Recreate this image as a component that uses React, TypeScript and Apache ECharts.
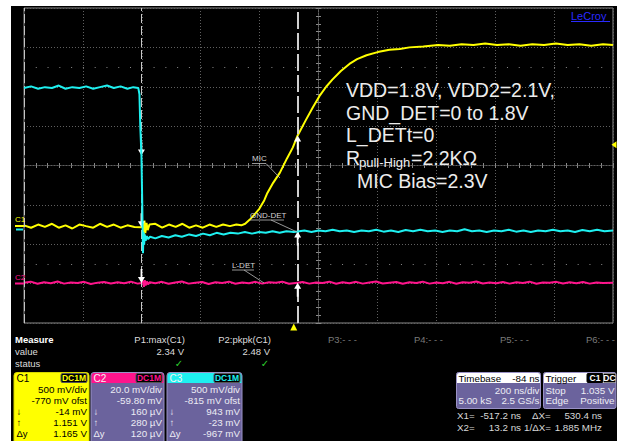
import React, { useEffect, useRef } from 'react';
import * as echarts from 'echarts';

// ---------- data ----------
// time in ns, C1/C3 in volts, C2 in millivolts
const timeRange = [-916, 1084];

const c1Trace: [number, number][] = [
  [-916, 0.01], [-892, -0.02], [-868, 0.02], [-845, -0.01], [-821, 0.03], [-798, -0.02], [-775, 0.01],
  [-752, -0.03], [-728, 0.02], [-705, 0.0], [-681, -0.02], [-658, 0.03], [-634, -0.01], [-611, 0.02],
  [-588, -0.02], [-565, 0.01], [-541, -0.01], [-517.2, -0.014], [-513, 0.03], [-510, -0.15], [-507, 0.07],
  [-504, -0.09], [-500, 0.04], [-496, -0.05], [-490, 0.02], [-470, 0.03], [-447, -0.02], [-424, 0.02],
  [-401, -0.01], [-378, 0.03], [-355, -0.02], [-332, 0.01], [-309, -0.02], [-286, 0.02], [-263, -0.01],
  [-240, 0.02], [-217, 0.0], [-195, 0.02], [-178, 0.01], [-165, 0.03], [-150, 0.08], [-133, 0.15],
  [-117, 0.22], [-100, 0.33], [-91, 0.41], [-70, 0.55], [-47, 0.68], [-23, 0.86], [-3, 1.0], [13.2, 1.151],
  [40, 1.34], [65, 1.51], [87, 1.65], [110, 1.77], [131, 1.86], [160, 1.97], [189, 2.06], [215, 2.12],
  [247, 2.17], [285, 2.21], [325, 2.24], [360, 2.25], [393, 2.27], [440, 2.28], [490, 2.3], [530, 2.29],
  [570, 2.31], [610, 2.3], [650, 2.32], [690, 2.3], [730, 2.31], [770, 2.29], [810, 2.31], [850, 2.3],
  [890, 2.32], [930, 2.3], [970, 2.31], [1010, 2.29], [1050, 2.31], [1084, 2.3],
];

const c2Trace: [number, number][] = [
  [-916, 0.2], [-893, 0.8], [-870, -0.3], [-848, 0.5], [-825, 0.0], [-802, 0.9], [-780, -0.2], [-757, 0.4],
  [-734, 0.1], [-712, 0.7], [-689, -0.4], [-666, 0.3], [-644, 0.6], [-621, -0.1], [-598, 0.5], [-576, 0.0],
  [-553, 0.8], [-530, -0.2], [-517.2, 0.16], [-512, 1.2], [-509, -1.8], [-506, 1.6], [-503, -1.2], [-499, 0.9],
  [-495, -0.6], [-489, 0.5], [-470, 0.0], [-448, 0.7], [-425, -0.3], [-402, 0.4], [-380, 0.9], [-357, -0.2],
  [-334, 0.3], [-311, 0.6], [-289, -0.4], [-266, 0.5], [-243, 0.1], [-220, 0.8], [-198, -0.3], [-175, 0.4],
  [-152, 0.0], [-130, 0.7], [-107, -0.2], [-84, 0.5], [-61, 0.2], [-39, 0.8], [-16, -0.3], [13.2, 0.28],
  [30, 0.6], [53, -0.2], [76, 0.4], [98, 0.1], [121, 0.8], [144, -0.3], [166, 0.5], [189, 0.0], [212, 0.7],
  [234, -0.2], [257, 0.4], [280, 0.9], [302, -0.1], [325, 0.3], [348, 0.6], [370, -0.3], [393, 0.5],
  [416, 0.1], [438, 0.8], [461, -0.2], [484, 0.4], [506, 0.0], [529, 0.7], [552, -0.3], [574, 0.5],
  [597, 0.2], [620, 0.9], [642, -0.1], [665, 0.4], [688, 0.0], [710, 0.6], [733, -0.2], [756, 0.5],
  [778, 0.1], [801, 0.8], [824, -0.3], [846, 0.4], [869, 0.2], [892, 0.7], [914, -0.1], [937, 0.5],
  [960, 0.0], [982, 0.6], [1005, -0.2], [1028, 0.4], [1050, 0.1], [1084, 0.3],
];

const c3Trace: [number, number][] = [
  [-916, 1.8], [-892, 1.82], [-868, 1.79], [-845, 1.81], [-821, 1.8], [-798, 1.83], [-775, 1.79],
  [-752, 1.81], [-728, 1.8], [-705, 1.82], [-681, 1.79], [-658, 1.81], [-634, 1.83], [-611, 1.8],
  [-588, 1.82], [-565, 1.79], [-545, 1.81], [-528, 1.8], [-524, 1.72], [-521, 1.3], [-517.2, 0.943],
  [-515, 0.45], [-513, -0.05], [-512, -0.3], [-510, -0.03], [-508, -0.19], [-506, -0.06], [-503, -0.14],
  [-499, -0.08], [-495, -0.12], [-488, -0.09], [-470, -0.11], [-448, -0.08], [-425, -0.1], [-402, -0.07],
  [-380, -0.09], [-355, -0.06], [-332, -0.08], [-308, -0.05], [-285, -0.07], [-262, -0.04], [-238, -0.06],
  [-215, -0.04], [-190, -0.05], [-166, -0.03], [-142, -0.05], [-118, -0.03], [-95, -0.04], [-72, -0.02],
  [-48, -0.04], [-25, -0.02], [0, -0.03], [13.2, -0.023], [36, -0.01], [60, -0.03], [84, -0.01],
  [108, -0.02], [132, 0.0], [156, -0.02], [180, -0.01], [205, -0.03], [230, -0.01], [255, -0.02],
  [280, 0.0], [305, -0.025], [330, -0.01], [355, -0.03], [380, -0.005], [405, -0.02], [430, 0.0],
  [455, -0.02], [480, -0.01], [505, -0.03], [530, -0.01], [555, -0.02], [580, 0.005], [605, -0.02],
  [630, -0.01], [655, -0.03], [680, -0.01], [705, -0.02], [730, 0.0], [755, -0.025], [780, -0.01],
  [805, -0.03], [830, -0.01], [855, -0.02], [880, 0.0], [905, -0.02], [930, -0.01], [955, -0.03],
  [980, -0.005], [1005, -0.02], [1030, 0.0], [1055, -0.02], [1084, -0.01],
];

// channel vertical settings: [volts per div, offset]
const c1Setting = [0.5, -0.77];
const c2Setting = [20, -59.8];
const c3Setting = [0.5, -0.815];

const cursorTimes = [-517.2, 13.2];
const c1AtCursor = [-0.014, 1.151];
const c2AtCursor = [0.16, 0.28];
const c3AtCursor = [0.943, -0.023];

const triggerTime = 0;
const triggerLevel = 1.035;

const measureNames = ['P1:max(C1)', 'P2:pkpk(C1)', 'P3:- - -', 'P4:- - -', 'P5:- - -', 'P6:- - -'];
const measureValues = ['2.34 V', '2.48 V', '', '', '', ''];

const c1Readout = ['500 mV/div', '-770 mV ofst', '-14 mV', '1.151 V', '1.165 V'];
const c2Readout = ['20.0 mV/div', '-59.80 mV', '160 µV', '280 µV', '120 µV'];
const c3Readout = ['500 mV/div', '-815 mV ofst', '943 mV', '-23 mV', '-967 mV'];

const noteLines = ['VDD=1.8V, VDD2=2.1V,', 'GND_DET=0 to 1.8V', 'L_DETt=0', 'MIC Bias=2.3V'];

// ---------- styling helpers ----------
const FONT = '"Liberation Sans", Arial, "DejaVu Sans", sans-serif';
const YELLOW = '#ffff00';
const CYAN = '#1ef0f0';
const MAGENTA = '#ff148c';
const PURPLE = '#6b639d';
const PURPLE_EDGE = '#9a92c6';

function axisRange(setting: number[]) {
  const center = -setting[1];
  return [center - 4 * setting[0], center + 4 * setting[0]];
}

type TOpts = { fill?: string; size?: number; weight?: string; align?: string; family?: string };
function txt(x: number, y: number, text: string, o: TOpts = {}) {
  return {
    type: 'text', x, y, silent: true, z: 100,
    style: {
      text, fill: o.fill ?? '#dedede', fontSize: o.size ?? 9.5, fontFamily: o.family ?? FONT,
      fontWeight: o.weight ?? 'normal', align: o.align ?? 'left', verticalAlign: 'middle',
    },
  };
}
function ln(x1: number, y1: number, x2: number, y2: number, stroke: string, w = 1) {
  return { type: 'line', silent: true, z: 100, shape: { x1, y1, x2, y2 }, style: { stroke, lineWidth: w } };
}
function rc(x: number, y: number, w: number, h: number, fill: string, stroke?: string, r: any = 0) {
  return {
    type: 'rect', silent: true, z: 99, shape: { x, y, width: w, height: h, r },
    style: { fill, stroke: stroke ?? 'none', lineWidth: 1 },
  };
}

function channelBox(x: number, w: number, name: string, color: string, yellowBody: boolean, values: string[]) {
  const els: any[] = [];
  els.push(rc(x + 0.5, 372.5, w, 72, yellowBody ? YELLOW : PURPLE, yellowBody ? '#d8d800' : PURPLE_EDGE, [3, 3, 0, 0]));
  if (!yellowBody) els.push(rc(x + 1, 373, w - 1, 10, color, undefined, [3, 3, 0, 0]));
  const fg = yellowBody ? '#000000' : '#ececf4';
  els.push(txt(x + 3, 378.5, name, { fill: yellowBody ? '#000' : '#f4f4f4', size: 10 }));
  els.push(rc(x + w - 27.5, 373.5, 26, 9, '#000', '#555', 1.5));
  els.push(txt(x + w - 14.5, 378.3, 'DC1M', { fill: yellowBody ? YELLOW : color, size: 8.5, weight: 'bold', align: 'center' }));
  const labels = ['', '', '↓', '↑', 'Δy'];
  values.forEach((v, i) => {
    const y = 389.5 + i * 11.1;
    if (labels[i]) els.push(txt(x + 3, y, labels[i], { fill: fg, size: 9.5 }));
    els.push(txt(x + w - 1.5, y, v, { fill: fg, align: 'right', size: 9.8 }));
  });
  return els;
}

const DOWN = 'path://M3,0 L5,0 L5,8 L8,8 L4,14 L0,8 L3,8 Z';
const UP = 'path://M4,0 L8,6 L5,6 L5,14 L3,14 L3,6 L0,6 Z';

function arrows(values: number[]) {
  return {
    silent: true,
    label: { show: false },
    itemStyle: { color: '#ffffff' },
    data: [
      { coord: [cursorTimes[0], values[0]], symbol: DOWN, symbolSize: [7, 14], symbolOffset: [0, -7] },
      { coord: [cursorTimes[1], values[1]], symbol: UP, symbolSize: [7, 14], symbolOffset: [0, 7] },
    ],
  };
}

function buildOption() {
  const c1 = axisRange(c1Setting);
  const c2 = axisRange(c2Setting);
  const c3 = axisRange(c3Setting);
  const hidden = { show: false };
  const gridLine = { color: '#606060', type: [1, 2], width: 1 };

  const els: any[] = [];
  // LeCroy logo
  els.push(txt(571, 16, 'LeCroy', { fill: '#2a2aff', size: 11 }));
  els.push(ln(571, 21.5, 610, 21.5, '#2a2aff', 1));
  // channel markers at left
  els.push(txt(15, 219.5, 'C1', { fill: YELLOW, size: 8 }));
  els.push(ln(15, 226, 24, 226, YELLOW, 2));
  els.push(ln(16, 229.5, 23, 229.5, CYAN, 2));
  els.push(txt(15, 277.5, 'C2', { fill: MAGENTA, size: 8 }));
  els.push(ln(15, 283.5, 24, 283.5, MAGENTA, 2));

  // big annotation text
  const big = { fill: '#ececec', size: 19.5 };
  els.push(txt(346, 90, noteLines[0], big));
  els.push(txt(346, 112.5, noteLines[1], big));
  els.push(txt(346, 135, noteLines[2], big));
  els.push(txt(346, 157.5, 'R', big));
  els.push(txt(359, 162, 'pull-High', { fill: '#ececec', size: 13 }));
  els.push(txt(411, 157.5, '=2.2KΩ', big));
  els.push(txt(357, 181, noteLines[3], big));

  // small trace labels with leaders
  const small = { fill: '#d4d4d4', size: 8 };
  els.push(txt(252, 158, 'MIC', small));
  els.push(ln(252, 163.5, 266, 163.5, '#bbbbbb', 0.8));
  els.push(ln(266, 163.5, 280, 178, '#bbbbbb', 0.8));
  els.push(txt(250, 215, 'GND-DET', small));
  els.push(ln(250, 220, 284, 220, '#bbbbbb', 0.8));
  els.push(ln(271, 220, 297, 232, '#bbbbbb', 0.8));
  els.push(txt(232, 265, 'L-DET', small));
  els.push(ln(232, 270, 254, 270, '#bbbbbb', 0.8));
  els.push(ln(244, 270, 264, 283, '#bbbbbb', 0.8));

  // measure table
  els.push(txt(15, 339, 'Measure', { fill: '#ffffff', weight: 'bold', size: 9.5 }));
  els.push(txt(15, 351, 'value', { fill: '#dcdcdc' }));
  els.push(txt(15, 363, 'status', { fill: '#dcdcdc' }));
  measureNames.forEach((n, i) => {
    const xr = 185 + 86 * i;
    els.push(txt(xr, 339, n, { fill: measureValues[i] ? '#dcdcdc' : '#7a7a7a', align: 'right' }));
    if (measureValues[i]) {
      els.push(txt(xr - 1, 351, measureValues[i], { fill: '#dcdcdc', align: 'right' }));
      els.push(txt(xr - 6, 363.5, '✓', { fill: '#2ed12e', align: 'center', size: 10, weight: 'bold', family: '"DejaVu Sans", sans-serif' }));
    }
  });

  // channel boxes
  els.push(...channelBox(13.5, 75, 'C1', YELLOW, true, c1Readout));
  els.push(...channelBox(90.5, 73, 'C2', MAGENTA, false, c2Readout));
  els.push(...channelBox(166.5, 75, 'C3', CYAN, false, c3Readout));

  // timebase box
  els.push(rc(456.5, 372.5, 84, 36, PURPLE, PURPLE_EDGE, 2));
  els.push(rc(457, 373, 83, 10, '#ffffff', undefined, [2, 2, 0, 0]));
  els.push(txt(458.5, 378.3, 'Timebase', { fill: '#000', size: 9.8 }));
  els.push(txt(539.5, 378.3, '-84 ns', { fill: '#000', size: 9.8, align: 'right' }));
  els.push(txt(539.5, 390, '200 ns/div', { fill: '#ececf4', size: 9.8, align: 'right' }));
  els.push(txt(458.5, 400.7, '5.00 kS', { fill: '#ececf4', size: 9.8 }));
  els.push(txt(539.5, 400.7, '2.5 GS/s', { fill: '#ececf4', size: 9.8, align: 'right' }));
  // trigger box
  els.push(rc(543.5, 372.5, 72.5, 36, PURPLE, PURPLE_EDGE, 2));
  els.push(rc(544, 373, 71.5, 10, '#ffffff', undefined, [2, 2, 0, 0]));
  els.push(txt(545.5, 378.3, 'Trigger', { fill: '#000', size: 9.8 }));
  els.push(rc(587, 373.5, 16, 9, '#000', '#000', 1));
  els.push(txt(595, 378.3, 'C1', { fill: '#ffffff', size: 8.5, weight: 'bold', align: 'center' }));
  els.push(rc(603.5, 373.5, 12, 9, '#000', '#888', 1));
  els.push(txt(609.5, 378.3, 'DC', { fill: '#ffffff', size: 8.5, weight: 'bold', align: 'center' }));
  els.push(txt(545.5, 390, 'Stop', { fill: '#ececf4', size: 9.8 }));
  els.push(txt(614.5, 390, triggerLevel.toFixed(3) + ' V', { fill: '#ececf4', size: 9.8, align: 'right' }));
  els.push(txt(545.5, 400.7, 'Edge', { fill: '#ececf4', size: 9.8 }));
  els.push(txt(614.5, 400.7, 'Positive', { fill: '#ececf4', size: 9.8, align: 'right' }));

  // cursor readouts
  const dx = cursorTimes[1] - cursorTimes[0];
  const ro = { fill: '#d8d8d8', size: 9.8 };
  els.push(txt(457, 415.5, 'X1=', ro));
  els.push(txt(521, 415.5, cursorTimes[0].toFixed(1) + ' ns', { ...ro, align: 'right' }));
  els.push(txt(532, 415.5, 'ΔX=', ro));
  els.push(txt(602, 415.5, dx.toFixed(1) + ' ns', { ...ro, align: 'right' }));
  els.push(txt(457, 427, 'X2=', ro));
  els.push(txt(521, 427, cursorTimes[1].toFixed(1) + ' ns', { ...ro, align: 'right' }));
  els.push(txt(524, 427, '1/ΔX=', ro));
  els.push(txt(602, 427, (1000 / dx).toFixed(3) + ' MHz', { ...ro, align: 'right' }));

  const tickAxisX = (inside: boolean) => ({
    type: 'value', min: -5, max: 5, interval: 0.2, position: 'bottom',
    axisLine: { show: true, onZero: true, onZeroAxisIndex: 0, lineStyle: gridLine },
    axisTick: { show: true, inside, length: 2.5, lineStyle: { color: '#8a8a8a', width: 1 } },
    axisLabel: hidden, splitLine: hidden,
  });
  const tickAxisY = (inside: boolean) => ({
    type: 'value', min: -4, max: 4, interval: 0.2, position: 'left',
    axisLine: { show: true, onZero: true, onZeroAxisIndex: 1, lineStyle: gridLine },
    axisTick: { show: true, inside, length: 2.5, lineStyle: { color: '#8a8a8a', width: 1 } },
    axisLabel: hidden, splitLine: hidden,
  });

  return {
    animation: false,
    backgroundColor: 'transparent',
    grid: { left: 24, top: 8, width: 589, height: 315, show: true, borderColor: '#8a8a8a', borderWidth: 1, backgroundColor: 'transparent' },
    xAxis: [
      { type: 'value', min: timeRange[0], max: timeRange[1], show: false },
      {
        type: 'value', min: -5, max: 5, interval: 1,
        axisLine: hidden, axisTick: hidden, axisLabel: hidden,
        splitLine: { show: true, lineStyle: gridLine },
      },
      tickAxisX(true),
      tickAxisX(false),
    ],
    yAxis: [
      {
        type: 'value', min: -4, max: 4, interval: 1,
        axisLine: hidden, axisTick: hidden, axisLabel: hidden,
        splitLine: { show: true, lineStyle: gridLine },
      },
      { type: 'value', min: c1[0], max: c1[1], show: false },
      { type: 'value', min: c2[0], max: c2[1], show: false },
      { type: 'value', min: c3[0], max: c3[1], show: false },
      tickAxisY(true),
      tickAxisY(false),
    ],
    series: [
      {
        type: 'line', xAxisIndex: 1, yAxisIndex: 0, data: [], silent: true, z: 1,
        markLine: {
          silent: true, symbol: 'none', label: { show: false },
          lineStyle: { color: '#8a8a8a', type: [1, 10.78], width: 1 },
          data: [{ yAxis: 2.5 }, { yAxis: -2.5 }],
        },
      },
      {
        type: 'line', xAxisIndex: 0, yAxisIndex: 1, data: [], silent: true, z: 1,
        markLine: {
          silent: true, symbol: 'none', label: { show: false },
          data: [
            { xAxis: timeRange[0], lineStyle: { color: '#c4c4c4', type: [9, 3], width: 1 } },
            { xAxis: cursorTimes[0], lineStyle: { color: '#c8c8c8', type: [9, 3], width: 1 } },
            { xAxis: cursorTimes[1], lineStyle: { color: '#d0d0d0', type: [17, 4], width: 2 } },
          ],
        },
      },
      {
        name: 'L-DET', type: 'line', xAxisIndex: 0, yAxisIndex: 2, data: c2Trace, showSymbol: false,
        lineStyle: { color: MAGENTA, width: 2 }, z: 3, silent: true,
        markPoint: arrows(c2AtCursor),
      },
      {
        name: 'MIC', type: 'line', xAxisIndex: 0, yAxisIndex: 1, data: c1Trace, showSymbol: false,
        lineStyle: { color: YELLOW, width: 2 }, z: 4, silent: true,
        markPoint: {
          ...arrows(c1AtCursor),
          data: [
            ...arrows(c1AtCursor).data,
            { coord: [triggerTime, c1[0]], symbol: 'triangle', symbolSize: [7, 7], symbolOffset: [0, 4], itemStyle: { color: YELLOW } },
            { coord: [timeRange[1], triggerLevel], symbol: 'path://M0,4 L7,0 L7,8 Z', symbolSize: [5, 7], symbolOffset: [1, 0], itemStyle: { color: YELLOW } },
          ],
        },
      },
      {
        name: 'GND-DET', type: 'line', xAxisIndex: 0, yAxisIndex: 3, data: c3Trace, showSymbol: false,
        lineStyle: { color: CYAN, width: 2 }, z: 5, silent: true,
        markPoint: arrows(c3AtCursor),
      },
    ],
    graphic: { elements: els },
  };
}

export default function App() {
  const ref = useRef<HTMLDivElement>(null);
  useEffect(() => {
    const chart = echarts.init(ref.current!, null, { renderer: 'svg' });
    chart.setOption(buildOption() as any);
    return () => chart.dispose();
  }, []);
  return (
    <div style={{ position: 'absolute', left: 0, top: 0, width: 618, height: 441, background: '#ffffff', overflow: 'hidden' }}>
      <div style={{ position: 'absolute', left: 11, top: 6, width: 606, height: 435, background: '#000000' }} />
      <div ref={ref} style={{ position: 'absolute', left: 0, top: 0, width: 618, height: 441 }} />
    </div>
  );
}
